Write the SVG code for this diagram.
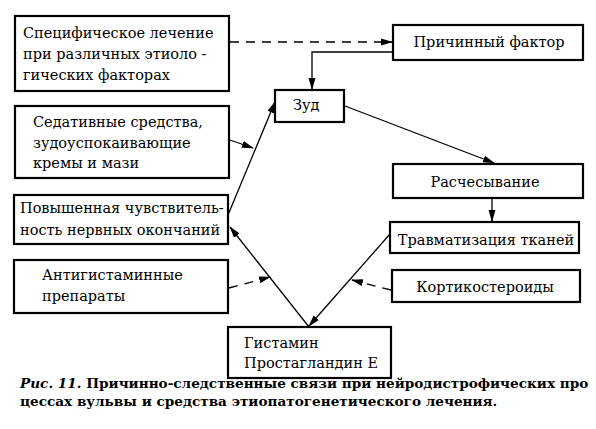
<svg xmlns="http://www.w3.org/2000/svg" width="596" height="429" viewBox="0 0 596 429">
<style>
.box{fill:#fff;stroke:#000;stroke-width:2.2}
.t{font-family:'DejaVu Serif',serif;font-size:14.5px;fill:#000}
.ln{fill:none;stroke:#000;stroke-width:1.3}
.dash{stroke-dasharray:9,7}
.cap{font-family:'DejaVu Serif',serif;font-size:13.6px;font-weight:bold;fill:#000}
</style>
<defs>
<marker id="ar" markerWidth="12" markerHeight="8" refX="11" refY="4" orient="auto" markerUnits="userSpaceOnUse">
<path d="M0,0.5 L12,4 L0,7.5 Z" fill="#000"/>
</marker>
</defs>
<rect width="596" height="429" fill="#fff"/>
<g id="connectors">
<path class="ln dash" d="M230,42 H392" marker-end="url(#ar)"/>
<path class="ln" d="M393,52 H312 V89" marker-end="url(#ar)"/>
<path class="ln" d="M345,106 L494,163" marker-end="url(#ar)"/>
<path class="ln" d="M492,199 V221" marker-end="url(#ar)"/>
<path class="ln" d="M390,234 L309,326" marker-end="url(#ar)"/>
<path class="ln dash" d="M391,290 L352,280" marker-end="url(#ar)"/>
<path class="ln" d="M309,327 L230,227" marker-end="url(#ar)"/>
<path class="ln dash" d="M229,288 L270,277" marker-end="url(#ar)"/>
<path class="ln" d="M228,215 L275,102" marker-end="url(#ar)"/>
<path class="ln" d="M230,140 L253,148" marker-end="url(#ar)"/>
</g>
<g id="n1"><rect class="box" x="15" y="16" width="214" height="75"/>
<text class="t" x="23" y="38">Специфическое лечение</text>
<text class="t" x="23" y="59">при различных этиоло -</text>
<text class="t" x="23" y="80">гических факторах</text></g>
<g id="n2"><rect class="box" x="15" y="106" width="214" height="72"/>
<text class="t" x="33" y="127">Седативные средства,</text>
<text class="t" x="33" y="148">зудоуспокаивающие</text>
<text class="t" x="33" y="168">кремы и мази</text></g>
<g id="n3"><rect class="box" x="14" y="195" width="214" height="49"/>
<text class="t" x="20" y="213">Повышенная чувствитель-</text>
<text class="t" x="20" y="235">ность нервных окончаний</text></g>
<g id="n4"><rect class="box" x="14" y="260" width="214" height="53"/>
<text class="t" x="42" y="280">Антигистаминные</text>
<text class="t" x="42" y="301">препараты</text></g>
<g id="n5"><rect class="box" x="228" y="327" width="163" height="51"/>
<text class="t" x="244" y="348">Гистамин</text>
<text class="t" x="244" y="368">Простагландин Е</text></g>
<g id="n6"><rect class="box" x="275" y="90" width="69" height="32"/>
<text class="t" x="293" y="110">Зуд</text></g>
<g id="n7"><rect class="box" x="393" y="25" width="190" height="35"/>
<text class="t" x="489" y="47" text-anchor="middle">Причинный фактор</text></g>
<g id="n8"><rect class="box" x="393" y="164" width="190" height="34"/>
<text class="t" x="485" y="187" text-anchor="middle">Расчесывание</text></g>
<g id="n9"><rect class="box" x="390" y="222" width="189" height="31"/>
<text class="t" x="486" y="245" text-anchor="middle">Травматизация тканей</text></g>
<g id="n10"><rect class="box" x="392" y="270" width="188" height="32"/>
<text class="t" x="485" y="292" text-anchor="middle">Кортикостероиды</text></g>
<g id="caption">
<text class="cap" x="20" y="388"><tspan font-style="italic">Рис. 11.</tspan> Причинно-следственные связи при нейродистрофических про</text>
<text class="cap" x="20" y="406">цессах вульвы и средства этиопатогенетического лечения.</text>
</g>
</svg>
